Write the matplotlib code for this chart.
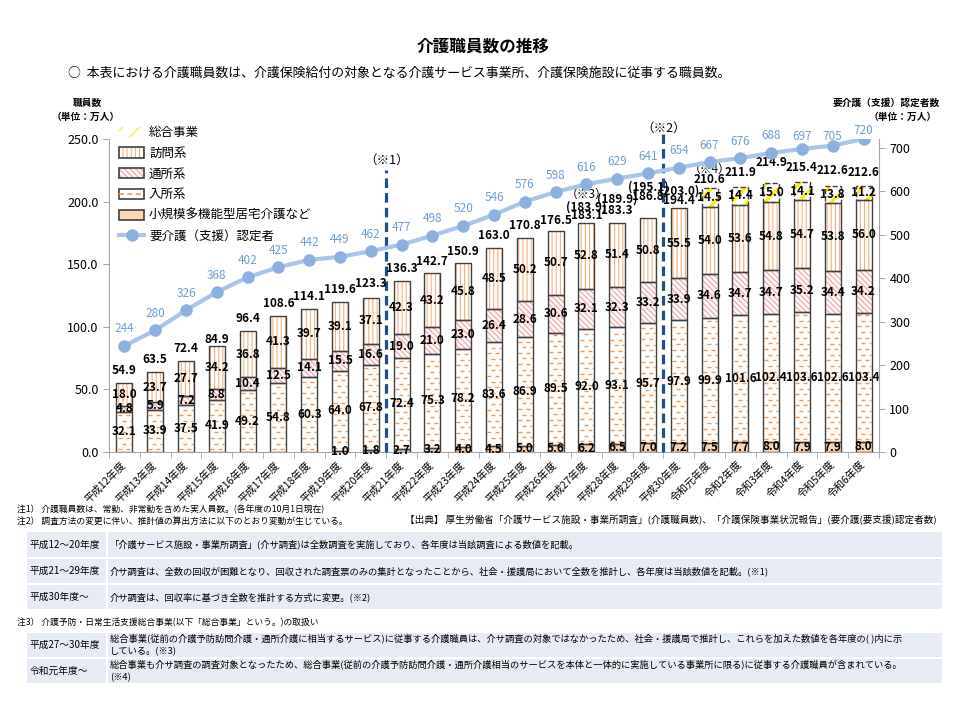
import matplotlib
matplotlib.use("Agg")
import matplotlib.pyplot as plt
from matplotlib.patches import Rectangle, Patch
from matplotlib.lines import Line2D
from matplotlib.collections import LineCollection
from matplotlib.legend_handler import HandlerTuple
import numpy as np

plt.rcParams['font.family'] = ['Noto Sans CJK JP', 'DejaVu Sans']
plt.rcParams['hatch.linewidth'] = 0.8

# --- data ---
years = ["平成12年度", "平成13年度", "平成14年度", "平成15年度", "平成16年度",
         "平成17年度", "平成18年度", "平成19年度", "平成20年度", "平成21年度",
         "平成22年度", "平成23年度", "平成24年度", "平成25年度", "平成26年度",
         "平成27年度", "平成28年度", "平成29年度", "平成30年度", "令和元年度",
         "令和2年度", "令和3年度", "令和4年度", "令和5年度", "令和6年度"]
shokibo = [0, 0, 0, 0, 0, 0, 0, 1.0, 1.8, 2.7, 3.2, 4.0, 4.5, 5.0, 5.6,
           6.2, 6.5, 7.0, 7.2, 7.5, 7.7, 8.0, 7.9, 7.9, 8.0]
nyusho = [32.1, 33.9, 37.5, 41.9, 49.2, 54.8, 60.3, 64.0, 67.8, 72.4, 75.3,
          78.2, 83.6, 86.9, 89.5, 92.0, 93.1, 95.7, 97.9, 99.9, 101.6, 102.4,
          103.6, 102.6, 103.4]
tsusho = [4.8, 5.9, 7.2, 8.8, 10.4, 12.5, 14.1, 15.5, 16.6, 19.0, 21.0, 23.0,
          26.4, 28.6, 30.6, 32.1, 32.3, 33.2, 33.9, 34.6, 34.7, 34.7, 35.2,
          34.4, 34.2]
homon = [18.0, 23.7, 27.7, 34.2, 36.8, 41.3, 39.7, 39.1, 37.1, 42.3, 43.2,
         45.8, 48.5, 50.2, 50.7, 52.8, 51.4, 50.8, 55.5, 54.0, 53.6, 54.8,
         54.7, 53.8, 56.0]
sogo = [0] * 19 + [14.5, 14.4, 15.0, 14.1, 13.8, 11.2]
totals = [54.9, 63.5, 72.4, 84.9, 96.4, 108.6, 114.1, 119.6, 123.3, 136.3,
          142.7, 150.9, 163.0, 170.8, 176.5, 183.1, 183.3, 186.8, 194.4,
          210.6, 211.9, 214.9, 215.4, 212.6, 212.6]
est_years = ["平成27年度", "平成28年度", "平成29年度", "平成30年度"]
est_totals = [183.9, 189.9, 195.1, 203.0]
ninteisha = [244, 280, 326, 368, 402, 425, 442, 449, 462, 477, 498, 520, 546,
             576, 598, 616, 629, 641, 654, 667, 676, 688, 697, 705, 720]

# label offsets in pixels (layout only, as placed in the reference)
total_pad = [13, 13, 13, 6, 13, 13, 13, 13, 14, 13, 12, 12, 12, 12.5, 11,
             7.5, 12.5, 21.5, 8.5, 9, 14.5, 20, 14.5, 15, 13.5]
est_pad = [16, 23.5, 31.5, 17.5]
line_pad = [17] * 22 + [12.5, 9, 8.5]

W, H = 960, 720
PT = 0.72  # points per pixel at 100 dpi


def fx(px):
    return px / W


def fy(py):
    return 1 - py / H


fig = plt.figure(figsize=(W / 100, H / 100), dpi=100)
ax = fig.add_axes([fx(109), fy(452), (879 - 109) / W, (452 - 139) / H])
ax2 = ax.twinx()

x = np.arange(len(years))
bw = 0.52
edge = '#404040'
dash_col = '#F79646'


def dash_segments(x0, x1, y0, y1):
    # short offset dashes that fill a bar segment
    segs = []
    row_h, period, dash = 4.5, 0.26, 0.13
    yy = y0 + row_h / 2
    k = 0
    while yy < y1 - 1.5:
        xs = x0 + 0.04 + (k % 2) * period / 2
        while xs < x1 - 0.04:
            segs.append([(xs, yy), (min(xs + dash, x1 - 0.03), yy)])
            xs += period
        yy += row_h
        k += 1
    return segs


layers = [
    (shokibo, dict(fc='#FCD5B5', hatch=None, hc=edge, ls='-', hlw=0.8)),
    (nyusho, dict(fc='white', hatch='dash', hc=edge, ls='-', hlw=0.8)),
    (tsusho, dict(fc='#FFF7F7', hatch='\\\\\\\\\\\\', hc='#E8A8A8', ls='-', hlw=0.8)),
    (homon, dict(fc='white', hatch='||||', hc='#F4B183', ls='-', hlw=0.8)),
    (sogo, dict(fc='white', hatch='//', hc='#FFEE00', ls='--', hlw=2.2)),
]

bottom = np.zeros(len(years))
for vals, st in layers:
    vals = np.array(vals, dtype=float)
    m = vals > 0
    with plt.rc_context({'hatch.linewidth': st['hlw']}):
        if st['hatch'] not in (None, 'dash'):
            ax.bar(x[m], vals[m], bw, bottom=bottom[m], color=st['fc'],
                   edgecolor=st['hc'], hatch=st['hatch'], lw=0, zorder=2)
        else:
            ax.bar(x[m], vals[m], bw, bottom=bottom[m], color=st['fc'], lw=0, zorder=2)
    if st['hatch'] == 'dash':
        segs = []
        for xi, b, v in zip(x[m], bottom[m], vals[m]):
            segs += dash_segments(xi - bw / 2, xi + bw / 2, b, b + v)
        ax.add_collection(LineCollection(segs, colors=dash_col, lw=1.0, zorder=2.5))
    ax.bar(x[m], vals[m], bw, bottom=bottom[m], fill=False, edgecolor=edge,
           lw=1.0, ls=st['ls'], zorder=3)
    for xi, b, v in zip(x[m], bottom[m], vals[m]):
        ax.text(xi, b + v / 2, f"{v:.1f}", ha='center', va='center',
                fontsize=8.5, fontweight='bold', zorder=5)
    bottom = bottom + vals

# totals above bars
for xi, t, p in zip(x, totals, total_pad):
    ax.annotate(f"{t:.1f}", (xi, t), xytext=(0, p * PT), textcoords='offset points',
                ha='center', va='center', fontsize=8.5, fontweight='bold', zorder=5)
for yr, et, p in zip(est_years, est_totals, est_pad):
    i = years.index(yr)
    ax.annotate(f"({et:.1f})", (i, totals[i]), xytext=(0, p * PT),
                textcoords='offset points', ha='center', va='center',
                fontsize=8.5, fontweight='bold', zorder=5)
i3 = years.index("平成27年度")
ax.annotate("（※3）", (i3, totals[i3]), xytext=(0, 28 * PT), textcoords='offset points',
            ha='center', va='center', fontsize=8.5, zorder=5)
i4 = years.index("令和元年度")
ax.annotate("（※4）", (i4, totals[i4]), xytext=(0, 19 * PT), textcoords='offset points',
            ha='center', va='center', fontsize=8.5, zorder=5)

# survey change markers
navy = '#1F4E8C'
ax.axvline(8.5, ymin=0, ymax=0.90, color=navy, lw=2.3, ls=(0, (3, 1.6)),
           clip_on=False, zorder=4)
ax.axvline(17.5, ymin=0, ymax=1.015, color=navy, lw=2.3, ls=(0, (3, 1.6)),
           clip_on=False, zorder=4)
ax.text(8.5, 0.933, "（※1）", transform=ax.get_xaxis_transform(), ha='center',
        va='center', fontsize=9)
ax.text(17.5, 1.033, "（※2）", transform=ax.get_xaxis_transform(), ha='center',
        va='center', fontsize=9)

# certified persons line
line_col = '#A9C5E9'
ax2.plot(x, ninteisha, color=line_col, lw=3, marker='o', ms=8,
         mfc='#8DB0DE', mec='#8DB0DE', zorder=3)
for xi, v, p in zip(x, ninteisha, line_pad):
    ax2.annotate(str(v), (xi, v), xytext=(0, p * PT), textcoords='offset points',
                 ha='center', va='center', fontsize=8.5, color='#6F9DD3')

# axes styling
grey = '#A6A6A6'
ax.set_xlim(-0.5, len(years) - 0.5)
ax.set_ylim(0, 250)
ax.set_yticks(np.arange(0, 251, 50))
ax.set_yticklabels([f"{v:.1f}" for v in np.arange(0, 251, 50)], fontsize=9)
ax2.set_ylim(0, 720)
ax2.set_yticks(np.arange(0, 701, 100))
ax2.set_yticklabels([str(v) for v in range(0, 701, 100)], fontsize=9)
ax.set_xticks(x)
ax.set_xticklabels(years, rotation=45, ha='right', va='center',
                   rotation_mode='anchor', fontsize=7.5)
ax.set_xticks(np.arange(-0.5, len(years), 1), minor=True)
ax.tick_params(axis='x', which='major', length=0, pad=8)
ax.tick_params(axis='x', which='minor', length=4, color=grey)
ax.tick_params(axis='y', length=4, color=grey)
ax2.tick_params(axis='y', length=4, color=grey)
for s in ['top', 'right']:
    ax.spines[s].set_visible(False)
for s in ['top', 'left', 'bottom']:
    ax2.spines[s].set_visible(False)
ax.spines['left'].set_color(grey)
ax.spines['bottom'].set_color(grey)
ax2.spines['right'].set_color(grey)

# legend
with plt.rc_context({'hatch.linewidth': 2.0}):
    h_sogo = (Patch(fc='white', ec='#FFEE00', hatch='//', lw=0),)
h_homon = (Patch(fc='white', ec='#F4B183', hatch='||||', lw=0),
           Patch(fill=False, ec=edge, lw=1.2))
h_tsusho = (Patch(fc='#FFF7F7', ec='#E8A8A8', hatch='\\\\\\\\\\\\', lw=0),
            Patch(fill=False, ec=edge, lw=1.2))
h_nyusho = (Patch(fc='white', ec=edge, lw=1.2),
            Line2D([], [], color=dash_col, lw=1.2, ls=(0, (3, 2))))
h_shokibo = (Patch(fc='#FCD5B5', ec=edge, lw=1.2),)
h_line = Line2D([], [], color=line_col, lw=3, marker='o', ms=8,
                mfc='#8DB0DE', mec='#8DB0DE')
ax2.legend([h_sogo, h_homon, h_tsusho, h_nyusho, h_shokibo, h_line],
           ["総合事業", "訪問系", "通所系", "入所系", "小規模多機能型居宅介護など",
            "要介護（支援）認定者"],
           handler_map={tuple: HandlerTuple(ndivide=1)},
           loc='upper left', bbox_to_anchor=(fx(119), fy(126)),
           bbox_transform=fig.transFigure, frameon=False, fontsize=9,
           handlelength=2.0, handleheight=0.9, labelspacing=0.62,
           handletextpad=0.4, borderpad=0, borderaxespad=0)

# titles and unit labels
fig.text(fx(483), fy(47), "介護職員数の推移", ha='center', va='center',
         fontsize=12, fontweight='bold')
fig.text(fx(68), fy(73),
         "○  本表における介護職員数は、介護保険給付の対象となる介護サービス事業所、介護保険施設に従事する職員数。",
         ha='left', va='center', fontsize=9.3)
fig.text(fx(87), fy(103), "職員数", ha='center', va='center', fontsize=7, fontweight='bold')
fig.text(fx(86), fy(117), "（単位：万人）", ha='center', va='center', fontsize=7, fontweight='bold')
fig.text(fx(940), fy(103), "要介護（支援）認定者数", ha='right', va='center',
         fontsize=7, fontweight='bold')
fig.text(fx(937), fy(117), "（単位：万人）", ha='right', va='center', fontsize=7,
         fontweight='bold')

# notes
fig.text(fx(17), fy(509), "注1） 介護職員数は、常勤、非常勤を含めた実人員数。(各年度の10月1日現在)",
         ha='left', va='center', fontsize=6.3)
fig.text(fx(17), fy(521), "注2） 調査方法の変更に伴い、推計値の算出方法に以下のとおり変動が生じている。",
         ha='left', va='center', fontsize=6.3)
fig.text(fx(937), fy(520),
         "【出典】 厚生労働省「介護サービス施設・事業所調査」(介護職員数)、「介護保険事業状況報告」(要介護(要支援)認定者数)",
         ha='right', va='center', fontsize=6.9)

cell_col = '#E7EBF3'


def table_row(y0, y1, label, lines):
    fig.add_artist(Rectangle((fx(27), fy(y1)), fx(106 - 27), (y1 - y0) / H,
                             transform=fig.transFigure, fc=cell_col, ec='none'))
    fig.add_artist(Rectangle((fx(108), fy(y1)), fx(942 - 108), (y1 - y0) / H,
                             transform=fig.transFigure, fc=cell_col, ec='none'))
    ym = (y0 + y1) / 2
    fig.text(fx(30), fy(ym), label, ha='left', va='center', fontsize=7)
    if len(lines) == 1:
        fig.text(fx(110), fy(ym), lines[0], ha='left', va='center', fontsize=6.7)
    else:
        fig.text(fx(110), fy(ym - 6.5), lines[0], ha='left', va='center', fontsize=6.7)
        fig.text(fx(110), fy(ym + 6.5), lines[1], ha='left', va='center', fontsize=6.7)


table_row(532, 557, "平成12～20年度",
          ["「介護サービス施設・事業所調査」(介サ調査)は全数調査を実施しており、各年度は当該調査による数値を記載。"])
table_row(559, 583, "平成21～29年度",
          ["介サ調査は、全数の回収が困難となり、回収された調査票のみの集計となったことから、社会・援護局において全数を推計し、各年度は当該数値を記載。(※1)"])
table_row(585, 609, "平成30年度～",
          ["介サ調査は、回収率に基づき全数を推計する方式に変更。(※2)"])
fig.text(fx(17), fy(623), "注3） 介護予防・日常生活支援総合事業(以下「総合事業」という。)の取扱い",
         ha='left', va='center', fontsize=6.3)
table_row(633, 657, "平成27～30年度",
          ["総合事業(従前の介護予防訪問介護・通所介護に相当するサービス)に従事する介護職員は、介サ調査の対象ではなかったため、社会・援護局で推計し、これらを加えた数値を各年度の( )内に示",
           "している。(※3)"])
table_row(659, 683, "令和元年度～",
          ["総合事業も介サ調査の調査対象となったため、総合事業(従前の介護予防訪問介護・通所介護相当のサービスを本体と一体的に実施している事業所に限る)に従事する介護職員が含まれている。",
           "(※4)"])

fig.savefig("out.png", dpi=100)
